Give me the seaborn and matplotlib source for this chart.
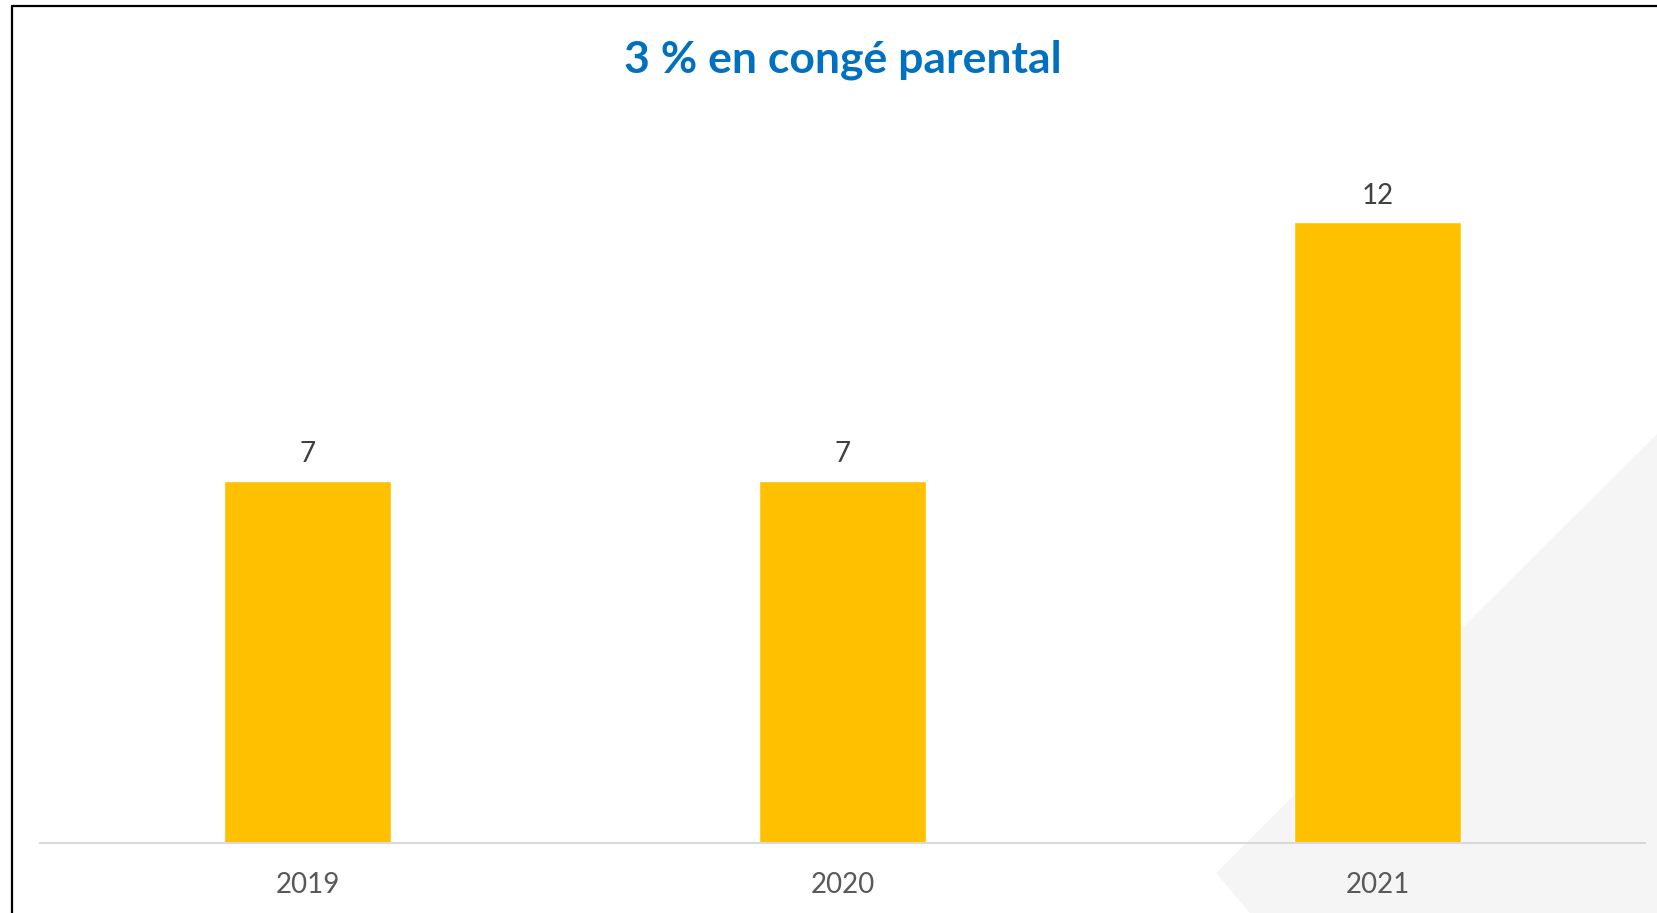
import matplotlib
matplotlib.use("Agg")
import matplotlib.pyplot as plt
from matplotlib.patches import Polygon
from matplotlib.lines import Line2D
import pandas as pd
import seaborn as sns

years = ["2019", "2020", "2021"]
counts = [7, 7, 12]
title = "3 % en congé parental"

sns.set_theme(style="white")
plt.rcParams["font.family"] = ["Lato", "DejaVu Sans"]

W, H = 1658, 913
fig = plt.figure(figsize=(W / 100, H / 100), dpi=100)
fig.patch.set_facecolor("white")

# light grey decorative shape in the lower right corner (pixel coords)
shape = [(1658, H - 433), (1216, H - 873), (1250, 0), (1658, 0)]
fig.patches.append(Polygon(shape, closed=True, transform=None,
                           facecolor="#F5F5F5", edgecolor="none", zorder=0))

# frame lines (left and top)
fig.add_artist(Line2D([11.5, 11.5], [0, H - 5.5], transform=None, color="black", lw=1.6))
fig.add_artist(Line2D([11.5, W], [H - 5.5, H - 5.5], transform=None, color="black", lw=1.6))

ax = fig.add_axes([40 / W, (H - 843) / H, (1645 - 40) / W, (843 - 119) / H])
ax.set_facecolor("none")
ax.set_zorder(2)

df = pd.DataFrame({"year": years, "count": counts})
sns.barplot(data=df, x="year", y="count", color="#FFC000", width=0.314,
            saturation=1, ax=ax)

for c in ax.containers:
    ax.bar_label(c, padding=10, fontsize=20, color="#404040")

ax.set_xlim(-0.5, 2.5)
ax.set_ylim(0, 14)
ax.set_xlabel("")
ax.set_ylabel("")
ax.set_yticks([])
ax.tick_params(axis="x", length=0, labelsize=20, labelcolor="#595959", pad=21)
for s in ["left", "right", "top"]:
    ax.spines[s].set_visible(False)
ax.spines["bottom"].set_color("#D9D9D9")
ax.spines["bottom"].set_linewidth(1.5)

fig.text(843 / W, (H - 60) / H, title, ha="center", va="center",
         fontsize=32, fontweight="bold", color="#0070C0")

fig.savefig("out.png", dpi=100)
